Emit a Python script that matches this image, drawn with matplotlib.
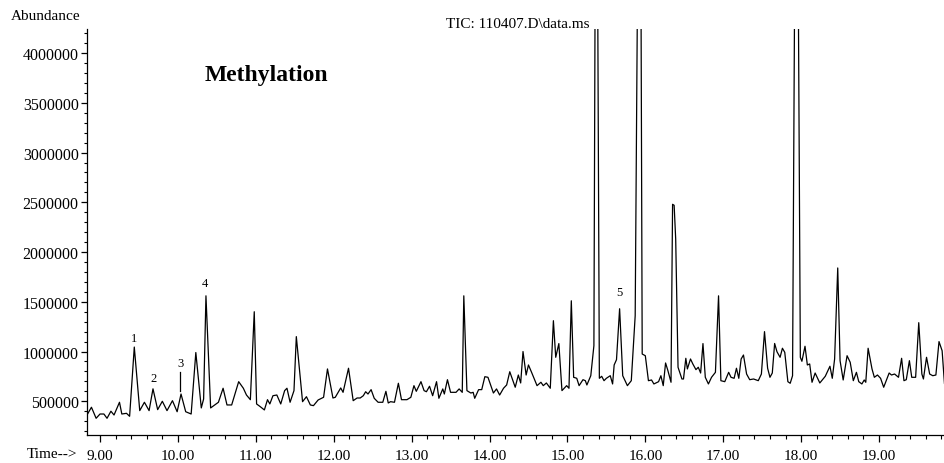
import numpy as np
import matplotlib
matplotlib.use("Agg")
import matplotlib.pyplot as plt
from matplotlib.ticker import MultipleLocator, FormatStrFormatter

plt.rcParams['font.family'] = ['Liberation Serif', 'DejaVu Serif']

# Retention time (min)
time_min = [
    8.84, 8.89, 8.95, 9.00, 9.05, 9.09, 9.14, 9.18, 9.25, 9.28, 9.34, 9.38,
    9.44, 9.51, 9.57, 9.63, 9.68, 9.74, 9.80, 9.86, 9.93, 9.99, 10.04, 10.10,
    10.17, 10.23, 10.30, 10.33, 10.36, 10.42, 10.52, 10.58, 10.63, 10.69, 10.78,
    10.84, 10.88, 10.93, 10.98, 11.01, 11.05, 11.11, 11.15, 11.18, 11.22, 11.27,
    11.32, 11.37, 11.40, 11.44, 11.49, 11.52, 11.60, 11.65, 11.70, 11.74, 11.80,
    11.87, 11.92, 11.99, 12.02, 12.09, 12.12, 12.19, 12.25, 12.30, 12.34, 12.38,
    12.41, 12.44, 12.48, 12.52, 12.57, 12.63, 12.67, 12.70, 12.73, 12.78, 12.83,
    12.87, 12.94, 12.99, 13.03, 13.06, 13.12, 13.16, 13.19, 13.23, 13.27, 13.32,
    13.35, 13.40, 13.42, 13.46, 13.50, 13.57, 13.61, 13.65, 13.67, 13.71, 13.76,
    13.79, 13.81, 13.86, 13.90, 13.94, 13.98, 14.05, 14.09, 14.13, 14.18, 14.22,
    14.26, 14.33, 14.37, 14.40, 14.43, 14.47, 14.50, 14.54, 14.61, 14.66, 14.69,
    14.73, 14.78, 14.82, 14.85, 14.89, 14.93, 14.99, 15.02, 15.05, 15.08, 15.12,
    15.15, 15.20, 15.23, 15.25, 15.30, 15.34, 15.37, 15.41, 15.44, 15.47, 15.50,
    15.55, 15.58, 15.60, 15.63, 15.67, 15.71, 15.77, 15.82, 15.87, 15.93, 15.96,
    16.00, 16.04, 16.08, 16.11, 16.17, 16.20, 16.23, 16.26, 16.29, 16.33, 16.35,
    16.37, 16.39, 16.42, 16.47, 16.49, 16.52, 16.54, 16.58, 16.61, 16.65, 16.68,
    16.71, 16.74, 16.77, 16.81, 16.85, 16.90, 16.94, 16.97, 17.02, 17.07, 17.10,
    17.14, 17.17, 17.20, 17.23, 17.26, 17.30, 17.34, 17.39, 17.45, 17.49, 17.53,
    17.57, 17.60, 17.63, 17.66, 17.69, 17.73, 17.76, 17.79, 17.83, 17.86, 17.89,
    17.94, 17.99, 18.01, 18.05, 18.08, 18.11, 18.14, 18.18, 18.24, 18.31, 18.37,
    18.40, 18.43, 18.47, 18.50, 18.54, 18.59, 18.63, 18.67, 18.71, 18.74, 18.78,
    18.81, 18.83, 18.86, 18.91, 18.94, 18.98, 19.02, 19.06, 19.13, 19.16, 19.20,
    19.25, 19.29, 19.32, 19.35, 19.39, 19.42, 19.47, 19.51, 19.55, 19.57, 19.61,
    19.65, 19.69, 19.73, 19.77, 19.81, 19.84,
]

# Total ion current abundance (thousands)
abundance_k = [
    372, 440, 329, 372, 372, 329, 400, 362, 490, 372, 379, 349,
    1045, 406, 490, 406, 625, 416, 500, 406, 506, 395, 573, 395,
    372, 990, 433, 523, 1560, 433, 490, 631, 463, 463, 697,
    631, 563, 516, 1400, 473, 450, 413, 516, 473, 556, 563,
    473, 607, 631, 490, 607, 1150, 496, 546, 463, 456, 513,
    540, 825, 533, 540, 634, 590, 832, 506, 533, 533, 556,
    596, 573, 617, 530, 490, 490, 600, 483, 496, 490, 681,
    516, 516, 540, 657, 600, 697, 607, 596, 651, 556, 697,
    530, 624, 573, 717, 590, 590, 624, 590, 1560, 607, 583,
    590, 530, 617, 617, 747, 741, 583, 624, 563, 631, 664,
    797, 641, 764, 684, 1000, 764, 865, 791, 657, 691, 657,
    684, 631, 1310, 942, 1080, 607, 657, 631, 1510, 741, 731,
    657, 717, 707, 664, 757, 1059, 8000, 731, 751, 707, 731,
    757, 674, 865, 918, 1430, 757, 657, 707, 1360, 8000, 975,
    958, 707, 714, 674, 697, 757, 657, 885, 808, 691, 2480,
    2470, 2130, 842, 724, 724, 932, 825, 925, 875, 818, 842,
    784, 1080, 741, 674, 741, 791, 1560, 707, 697, 791, 741,
    731, 832, 731, 925, 965, 774, 717, 724, 707, 774, 1200,
    832, 741, 784, 1081, 998, 942, 1033, 992, 697, 681, 757,
    8000, 942, 902, 1053, 865, 875, 691, 784, 684, 751, 852,
    731, 925, 1840, 908, 714, 958, 892, 707, 791, 697, 674,
    714, 691, 1033, 825, 741, 764, 731, 641, 784, 764, 774,
    741, 932, 707, 717, 908, 741, 741, 1290, 774, 724, 942,
    774, 757, 764, 1100, 1008, 680,
]

# Peak labels
peak_labels = ["1", "2", "3", "4", "5"]
peak_label_time = [9.44, 9.69, 10.03, 10.35, 15.67]
peak_label_abund_k = [1133, 731, 880, 1686, 1595]
marker3_time = 10.03
marker3_range_k = [607, 794]

t = np.array(time_min)
v = np.array(abundance_k) * 1000.0

fig = plt.figure(figsize=(9.45, 4.64), dpi=100)
ax = fig.add_axes([87/945, 1 - 436/464, 1 - 87/945, (436 - 30)/464])

ax.plot(t, v, color='black', lw=0.9)

ax.set_xlim(8.833, 19.847)
ax.set_ylim(161000, 4242000)

for s in ['top', 'right']:
    ax.spines[s].set_visible(False)
for s in ['left', 'bottom']:
    ax.spines[s].set_linewidth(0.9)

ax.xaxis.set_major_locator(MultipleLocator(1.0))
ax.xaxis.set_minor_locator(MultipleLocator(0.2))
ax.xaxis.set_major_formatter(FormatStrFormatter('%.2f'))
ax.yaxis.set_major_locator(MultipleLocator(500000))
ax.yaxis.set_minor_locator(MultipleLocator(100000))
ax.yaxis.set_major_formatter(FormatStrFormatter('%d'))
ax.set_yticks(np.arange(500000, 4000001, 500000))

ax.tick_params(axis='x', which='major', direction='out', length=5, width=0.9,
               labelsize=11, pad=5)
ax.tick_params(axis='x', which='minor', direction='out', length=3, width=0.8)
ax.tick_params(axis='y', which='major', direction='out', length=4, width=0.9,
               labelsize=11.5, pad=2)
ax.tick_params(axis='y', which='minor', direction='out', length=2, width=0.8)

for lab, lt, lv in zip(peak_labels, peak_label_time, peak_label_abund_k):
    ax.text(lt, lv * 1000.0, lab, ha='center', va='center', fontsize=9)
ax.plot([marker3_time, marker3_time],
        [marker3_range_k[0] * 1000.0, marker3_range_k[1] * 1000.0],
        color='black', lw=0.9)

fig.text(11/945, 1 - 17/464, "Abundance", ha='left', va='center', fontsize=11)
fig.text(446/945, 1 - 24/464, "TIC: 110407.D\\data.ms", ha='left', va='center',
         fontsize=11)
fig.text(205/945, 1 - 75/464, "Methylation", ha='left', va='center',
         fontsize=17, fontweight='bold')
fig.text(77/945, 1 - 455/464, "Time-->", ha='right', va='center', fontsize=11)

fig.savefig("out.png", dpi=100)
